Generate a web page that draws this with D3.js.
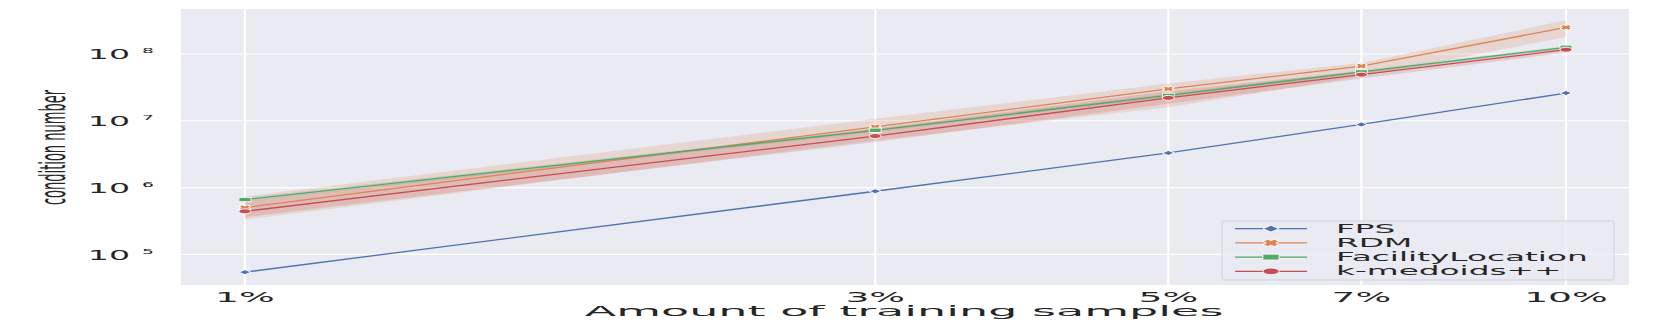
<!DOCTYPE html>
<html>
<head>
<meta charset="utf-8">
<script src="https://cdn.jsdelivr.net/npm/d3@7"></script>
<style>
  html, body { margin: 0; padding: 0; background: #fff; }
  svg { display: block; }
  text { font-family: "DejaVu Sans", sans-serif; fill: #262626; }
</style>
</head>
<body>
<svg id="chart" width="1661" height="327"></svg>
<script>
// ---------------- data ----------------
const categories = ["1%", "3%", "5%", "7%", "10%"];
const xValues = [1, 3, 5, 7, 10];
const seriesNames = ["FPS", "RDM", "FacilityLocation", "k-medoids++"];
const fpsValues = [5.4e4, 8.8e5, 3.3e6, 8.8e6, 2.6e7];
const rdmValues = [5.0e5, 8.1e6, 3.0e7, 6.6e7, 2.5e8];
const rdmLow = [3.3e5, 5.1e6, 1.6e7, 4.6e7, 1.8e8];
const rdmHigh = [7.4e5, 1.07e7, 3.6e7, 7.3e7, 3.2e8];
const facilityValues = [6.6e5, 7.2e6, 2.4e7, 5.4e7, 1.26e8];
const facilityLow = [6.2e5, 6.8e6, 2.25e7, 5.1e7, 1.2e8];
const facilityHigh = [7.0e5, 7.6e6, 2.55e7, 5.7e7, 1.32e8];
const kmedValues = [4.4e5, 5.9e6, 2.2e7, 4.9e7, 1.16e8];
const kmedLow = [3.6e5, 4.8e6, 1.8e7, 4.3e7, 1.05e8];
const kmedHigh = [6.2e5, 7.6e6, 2.8e7, 5.5e7, 1.25e8];
const yTickValues = [1e5, 1e6, 1e7, 1e8];
const yTickExponents = ["5", "6", "7", "8"];
const xAxisTitle = "Amount of training samples";
const yAxisTitle = "condition number";

// ---------------- layout ----------------
const W = 1661, H = 327;
const plot = { left: 181, right: 1629, top: 9, bottom: 285 };
const colors = ["#4C72B0", "#DD8452", "#55A868", "#C44E52"];
const markers = ["diamond", "x", "square", "circle"];

const series = [
  { name: seriesNames[0], values: fpsValues, low: null, high: null },
  { name: seriesNames[1], values: rdmValues, low: rdmLow, high: rdmHigh },
  { name: seriesNames[2], values: facilityValues, low: facilityLow, high: facilityHigh },
  { name: seriesNames[3], values: kmedValues, low: kmedLow, high: kmedHigh }
];

const svg = d3.select("#chart");
svg.append("rect").attr("width", W).attr("height", H).attr("fill", "#fff");

const x = d3.scaleLog().domain([Math.pow(10, -0.0484), Math.pow(10, 1.0477)]).range([plot.left, plot.right]);
const y = d3.scaleLog().domain([Math.pow(10, 4.54), Math.pow(10, 8.674)]).range([plot.bottom, plot.top]);

// background
svg.append("rect")
  .attr("x", plot.left).attr("y", plot.top)
  .attr("width", plot.right - plot.left).attr("height", plot.bottom - plot.top)
  .attr("fill", "#EAEAF2");

// grid
const grid = svg.append("g");
grid.selectAll("line.h").data(yTickValues).join("line")
  .attr("x1", plot.left).attr("x2", plot.right)
  .attr("y1", d => y(d)).attr("y2", d => y(d))
  .attr("stroke", "#fff").attr("stroke-width", 1.2);
grid.selectAll("line.v").data(xValues).join("line")
  .attr("y1", plot.top).attr("y2", plot.bottom)
  .attr("x1", d => x(d)).attr("x2", d => x(d))
  .attr("stroke", "#fff").attr("stroke-width", 2.2);

// text helper
function addText(parent, tx, ty, str, opt) {
  const t = parent.append("text")
    .attr("transform", `translate(${tx},${ty})` + (opt.rotate ? ` rotate(${opt.rotate})` : "") + ` scale(${opt.sx || 1},${opt.sy || 1})`)
    .attr("text-anchor", opt.anchor || "start")
    .attr("font-size", opt.size)
    .text(str);
  if (opt.weight) t.attr("font-weight", opt.weight);
  return t;
}

// marker shapes (pixel units, squashed vertically like the reference)
function markerPath(type, k) {
  const w = 6 * k, h = 2.5 * k;
  if (type === "diamond") return `M0,${-h}L${w},0L0,${h}L${-w},0Z`;
  if (type === "square") { const hh = 2.2 * k; return `M${-w},${-hh}H${w}V${hh}H${-w}Z`; }
  if (type === "circle") return `M${-w},0A${w},${h} 0 1,0 ${w},0A${w},${h} 0 1,0 ${-w},0Z`;
  // filled X
  const t = 0.6;
  const pts = [[-1,-1+t],[-1+t,-1],[0,-t],[1-t,-1],[1,-1+t],[t,0],[1,1-t],[1-t,1],[0,t],[-1+t,1],[-1,1-t],[-t,0]];
  return "M" + pts.map(p => `${p[0]*w},${p[1]*h*1.1}`).join("L") + "Z";
}

// bands, lines, markers
const lineGen = d3.line().x(d => x(d.x)).y(d => y(d.y));
const areaGen = d3.area().x(d => x(d.x)).y0(d => y(d.lo)).y1(d => y(d.hi));

series.forEach((s, i) => {
  if (s.low) {
    const pts = xValues.map((xv, j) => ({ x: xv, lo: s.low[j], hi: s.high[j] }));
    svg.append("path").attr("d", areaGen(pts)).attr("fill", colors[i]).attr("fill-opacity", 0.2);
  }
});
series.forEach((s, i) => {
  const pts = xValues.map((xv, j) => ({ x: xv, y: s.values[j] }));
  svg.append("path").attr("d", lineGen(pts)).attr("fill", "none")
    .attr("stroke", colors[i]).attr("stroke-width", 1.3);
  svg.append("g").selectAll("path").data(pts).join("path")
    .attr("transform", d => `translate(${x(d.x)},${y(d.y)})`)
    .attr("d", markerPath(markers[i], 1))
    .attr("fill", colors[i]).attr("stroke", "#fff").attr("stroke-width", 0.9);
});

// x tick labels
categories.forEach((c, j) => {
  addText(svg, x(xValues[j]), 301.7, c, { size: 13.7, sx: 2.75, anchor: "middle" });
});
// y tick labels
yTickValues.forEach((v, j) => {
  const yy = y(v);
  addText(svg, 130, yy + 5.3, "10", { size: 13.7, sx: 2.42, anchor: "end" });
  addText(svg, 142, yy - 0.7, yTickExponents[j], { size: 7.5, sx: 2.5, anchor: "start" });
});

// axis titles
addText(svg, 904, 316, xAxisTitle, { size: 13.7, sx: 3.36, anchor: "middle" });
addText(svg, 65, 147.5, yAxisTitle, { size: 35, sx: 0.372, anchor: "middle", rotate: -90 });

// legend
const lg = svg.append("g");
lg.append("rect").attr("x", 1222).attr("y", 221).attr("width", 392).attr("height", 59)
  .attr("rx", 2).attr("fill", "#EAEAF2").attr("fill-opacity", 0.8)
  .attr("stroke", "#D0D0D6").attr("stroke-width", 1);
series.forEach((s, i) => {
  const ly = 228.7 + i * 14.2;
  lg.append("line").attr("x1", 1235).attr("x2", 1307).attr("y1", ly).attr("y2", ly)
    .attr("stroke", colors[i]).attr("stroke-width", 1.3);
  lg.append("path").attr("transform", `translate(1271,${ly})`)
    .attr("d", markerPath(markers[i], 1.35))
    .attr("fill", colors[i]).attr("stroke", "#fff").attr("stroke-width", 0.9);
  addText(lg, 1336, ly + 4, s.name, { size: 12.5, sx: 2.62, anchor: "start" });
});
</script>
</body>
</html>
